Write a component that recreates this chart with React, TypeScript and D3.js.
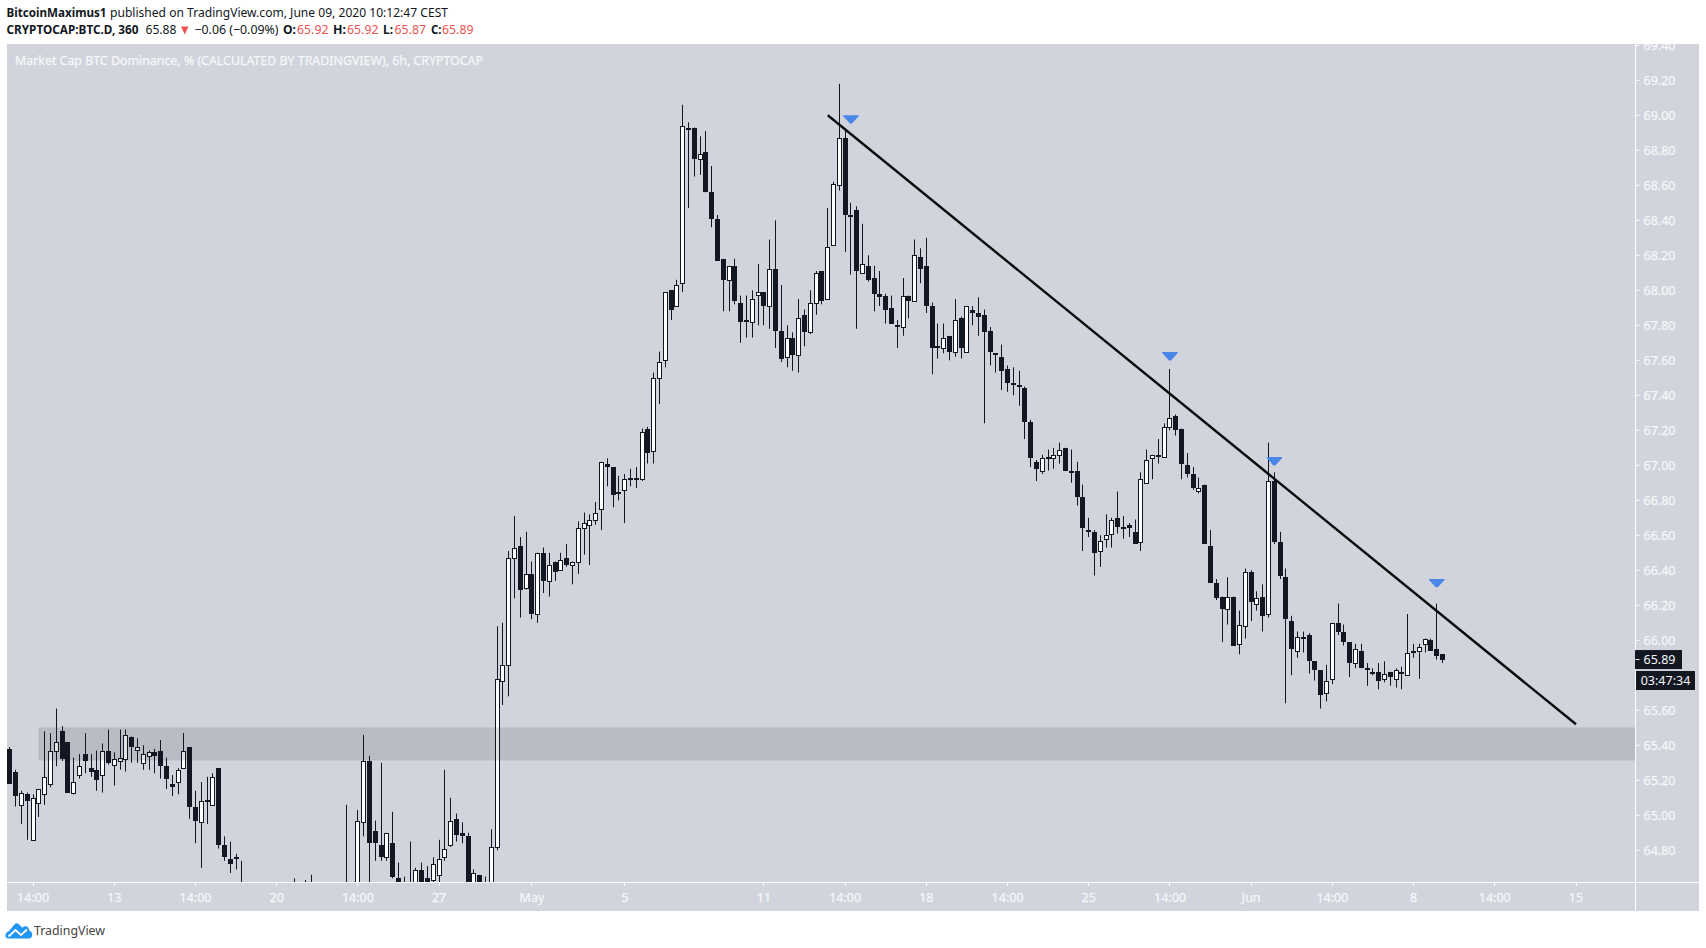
import React from "react";
import * as d3 from "d3";

// OHLC of the 6h candles, oldest first (off-chart bars below 64.62 are estimates)
const opens = [
65.38,65.25,65.06,65.12,64.86,65.07,65.12,65.18,65.37,65.48,
65.42,65.13,65.23,65.35,65.27,65.26,65.23,65.37,65.29,65.32,
65.32,65.45,65.38,65.30,65.34,65.36,65.37,65.28,65.18,65.19,
65.27,65.39,65.05,64.96,65.09,65.06,65.27,64.83,64.75,64.76,
64.60,64.50,64.45,64.40,64.44,64.48,64.42,64.38,64.46,64.50,
64.48,64.44,64.52,64.46,64.42,64.48,64.44,64.50,64.46,64.40,
64.52,64.96,65.31,64.91,64.83,64.76,64.84,64.64,64.62,64.55,
64.55,64.69,64.64,64.63,64.66,64.76,64.83,64.98,64.90,64.88,
64.50,64.66,64.52,64.50,64.82,65.77,65.86,66.47,66.54,66.30,
66.38,66.15,66.50,66.34,66.45,66.40,66.47,66.43,66.45,66.64,
66.66,66.69,66.75,67.01,66.99,66.85,66.86,66.93,66.93,66.92,
67.21,67.08,67.50,67.60,68.00,67.91,68.04,68.93,68.93,68.75,
68.79,68.56,68.41,68.18,68.06,68.14,67.93,67.83,67.82,67.98,
67.99,67.91,68.12,67.77,67.62,67.73,67.63,67.86,67.76,67.93,
68.11,67.95,68.26,68.60,68.87,68.43,68.46,68.10,68.14,68.07,
67.98,67.97,67.90,67.80,67.79,67.97,67.94,68.19,68.14,67.91,
67.68,67.67,67.74,67.65,67.84,67.65,67.89,67.87,67.86,67.77,
67.64,67.62,67.55,67.47,67.46,67.44,67.25,67.02,66.97,67.05,
67.05,67.06,67.10,66.97,66.97,66.82,66.63,66.62,66.51,66.58,
66.61,66.70,66.65,66.66,66.62,66.56,66.90,67.05,67.06,67.05,
67.22,67.28,67.21,67.00,66.95,66.86,66.89,66.54,66.33,66.25,
66.18,66.25,65.98,66.08,66.39,66.21,66.25,66.15,66.91,66.56,
66.36,66.11,65.94,66.02,66.03,65.88,65.83,65.70,65.78,66.10,
66.05,65.99,65.87,65.94,65.84,65.82,65.82,65.78,65.82,65.78,
65.82,65.80,65.94,65.94,65.98,66.00,65.95,65.92];

const highs = [
65.39,65.26,65.14,65.13,65.12,65.15,65.48,65.47,65.61,65.51,
65.42,65.33,65.35,65.47,65.35,65.37,65.41,65.49,65.36,65.49,
65.49,65.45,65.44,65.40,65.37,65.38,65.43,65.33,65.23,65.27,
65.47,65.39,65.14,65.19,65.22,65.24,65.27,64.88,64.85,64.78,
64.74,64.58,64.55,64.52,64.55,64.58,64.52,64.50,64.58,64.64,
64.60,64.63,64.66,64.58,64.56,64.60,64.58,64.60,65.06,64.58,
65.03,65.46,65.34,64.97,65.30,64.90,65.02,64.73,64.65,64.85,
64.70,64.73,64.71,64.76,64.86,65.26,65.10,65.01,64.96,64.90,
64.69,64.66,64.65,64.92,66.08,66.10,66.51,66.71,66.59,66.62,
66.45,66.50,66.53,66.50,66.45,66.50,66.55,66.45,66.68,66.73,
66.72,66.79,67.02,67.04,66.99,66.94,66.95,66.98,66.99,67.21,
67.22,67.53,67.65,67.99,68.00,68.06,69.06,68.96,68.93,68.88,
68.91,68.71,68.43,68.18,68.14,68.18,67.97,67.97,68.00,68.15,
67.99,68.29,68.40,68.03,67.80,67.76,67.95,67.89,68.00,68.11,
68.11,68.47,68.62,69.18,68.92,68.50,68.48,68.38,68.20,68.14,
68.11,67.98,67.97,67.83,68.07,67.97,68.29,68.24,68.30,67.93,
67.81,67.81,67.74,67.95,67.85,67.91,67.91,67.96,67.89,67.79,
67.64,67.69,67.57,67.56,67.54,67.45,67.26,67.03,67.06,67.09,
67.10,67.13,67.10,67.09,67.02,66.89,66.70,66.63,66.60,66.72,
66.70,66.85,66.71,66.67,66.69,66.96,67.09,67.06,67.15,67.24,
67.55,67.29,67.21,67.07,66.99,66.93,66.89,66.63,66.35,66.25,
66.36,66.25,66.17,66.41,66.40,66.28,66.32,67.13,66.96,66.62,
66.41,66.14,66.05,66.05,66.04,65.88,65.83,65.86,66.10,66.21,
66.09,65.99,65.98,65.98,65.87,65.84,65.87,65.88,65.82,65.84,
65.85,66.15,65.98,65.98,66.01,66.01,66.21,65.92];

const lows = [
65.18,65.05,64.95,64.86,64.86,64.99,65.06,65.16,65.28,65.31,
65.13,65.12,65.21,65.24,65.22,65.14,65.13,65.29,65.17,65.26,
65.25,65.30,65.30,65.26,65.26,65.24,65.21,65.15,65.11,65.12,
65.27,64.98,64.84,64.70,64.95,65.06,64.81,64.74,64.67,64.69,
64.42,64.38,64.35,64.30,64.36,64.40,64.34,64.30,64.38,64.42,
64.40,64.38,64.44,64.38,64.34,64.40,64.36,64.42,64.36,64.30,
64.45,64.88,64.60,64.74,64.74,64.74,64.64,64.50,64.50,64.45,
64.48,64.50,64.52,64.58,64.58,64.74,64.82,64.85,64.84,64.40,
64.42,64.45,64.42,64.45,64.80,65.63,65.68,66.24,66.13,66.29,
66.12,66.10,66.27,66.25,66.34,66.40,66.42,66.32,66.38,66.49,
66.43,66.66,66.63,66.88,66.76,66.80,66.67,66.88,66.87,66.91,
67.01,67.01,67.35,67.56,67.83,67.91,67.99,68.47,68.65,68.66,
68.56,68.36,68.17,67.88,67.88,67.92,67.70,67.73,67.73,67.80,
67.80,67.78,67.67,67.59,67.56,67.54,67.53,67.68,67.75,67.86,
67.92,67.95,68.26,68.57,68.22,68.09,67.78,68.10,68.05,67.88,
67.91,67.81,67.81,67.67,67.74,67.84,67.94,68.04,67.87,67.52,
67.61,67.64,67.60,67.62,67.61,67.65,67.80,67.74,67.24,67.57,
67.53,67.43,67.42,67.40,67.34,67.15,66.99,66.91,66.95,66.97,
66.98,67.01,66.97,66.90,66.77,66.51,66.59,66.37,66.42,66.53,
66.53,66.61,66.58,66.59,66.55,66.51,66.90,66.92,67.01,67.05,
67.20,67.17,66.92,66.93,66.86,66.84,66.55,66.33,66.23,65.99,
66.09,65.97,65.92,66.01,66.11,66.17,66.05,66.13,66.55,66.35,
65.64,65.80,65.90,65.93,65.81,65.77,65.61,65.65,65.75,66.03,
65.97,65.79,65.84,65.84,65.74,65.80,65.72,65.76,65.74,65.73,
65.72,65.80,65.90,65.78,65.93,65.94,65.89,65.87];

const closes = [
65.18,65.11,65.13,65.08,65.10,65.15,65.22,65.37,65.42,65.32,
65.13,65.19,65.28,65.31,65.25,65.20,65.37,65.30,65.32,65.33,
65.46,65.39,65.39,65.35,65.36,65.34,65.28,65.21,65.16,65.26,
65.37,65.05,64.97,65.08,65.08,65.22,64.83,64.76,64.72,64.75,
64.50,64.45,64.40,64.44,64.48,64.42,64.38,64.46,64.50,64.48,
64.44,64.52,64.46,64.42,64.48,64.44,64.50,64.46,64.40,64.52,
64.97,65.31,64.84,64.84,64.76,64.90,64.65,64.58,64.55,64.60,
64.69,64.58,64.58,64.72,64.75,64.81,64.97,64.89,64.88,64.48,
64.67,64.52,64.48,64.82,65.78,65.86,66.47,66.53,66.29,66.38,
66.15,66.50,66.34,66.43,66.39,66.46,66.43,66.45,66.64,66.67,
66.69,66.73,67.02,66.99,66.83,66.84,66.92,66.92,66.92,67.19,
67.07,67.50,67.59,67.99,67.89,68.03,68.94,68.92,68.75,68.78,
68.56,68.41,68.17,68.06,68.14,67.94,67.82,67.82,67.95,67.99,
67.91,68.12,67.77,67.61,67.73,67.63,67.84,67.76,67.93,68.10,
67.94,68.25,68.61,68.87,68.43,68.42,68.11,68.15,68.06,67.98,
67.96,67.89,67.81,67.79,67.97,67.94,68.20,68.12,67.91,67.67,
67.67,67.73,67.65,67.83,67.67,67.91,67.87,67.85,67.76,67.65,
67.63,67.54,67.47,67.46,67.45,67.25,67.04,66.98,67.04,67.04,
67.06,67.09,66.97,66.96,66.82,66.64,66.62,66.50,66.57,66.60,
66.69,66.65,66.64,66.64,66.55,66.92,67.03,67.06,67.05,67.22,
67.27,67.20,67.01,66.95,66.87,66.87,66.55,66.33,66.24,66.18,
66.25,65.97,66.09,66.39,66.22,66.24,66.14,66.91,66.56,66.37,
66.12,65.95,66.02,66.01,65.88,65.83,65.69,65.77,66.10,66.05,
65.99,65.87,65.95,65.84,65.83,65.81,65.77,65.81,65.79,65.83,
65.81,65.93,65.93,65.96,66.01,65.94,65.91,65.89];

// Time axis: bar index of each labelled tick
const timeTickBars = [4, 18, 32, 46, 60, 74, 90, 106, 130, 144, 158, 172, 186, 200, 214, 228, 242, 256, 270];
const timeTickLabels = ["14:00", "13", "14:00", "20", "14:00", "27", "May", "5", "11", "14:00", "18", "14:00", "25", "14:00", "Jun", "14:00", "8", "14:00", "15"];
// 65.80 is hidden behind the last-price and countdown labels in the reference
const priceTicks = [64.8, 65, 65.2, 65.4, 65.6, 66, 66.2, 66.4, 66.6, 66.8, 67, 67.2, 67.4, 67.6, 67.8, 68, 68.2, 68.4, 68.6, 68.8, 69, 69.2, 69.4];

// Drawn objects on the chart
const trendBars = [141, 270];
const trendValues = [69.0, 65.52];
const zoneStartBar = 5;
const zoneValues = [65.5, 65.315];
const markerBars = [145, 200, 218, 246];
const markerValues = [69.0, 67.647, 67.047, 66.35];
const lastPrice = 65.89;
const countdown = "03:47:34";

const SANS = "'Noto Sans', sans-serif";
const BG = "#d1d4dc";
const DARK = "#131722";
const RED = "#ef5350";
const AXIS_TEXT = "#f6f7f9";

const panel = { left: 7, top: 44, right: 1699, bottom: 911, axisX: 1635.5, axisY: 882.5 };

function Fit({ x, y, w, bold, fill, halo, children }: { x: number; y: number; w: number; bold?: boolean; fill?: string; halo?: boolean; children: string }) {
  return (
    <text x={x} y={y} textLength={w} lengthAdjust="spacingAndGlyphs" fontFamily={SANS} fontSize={12.5} fontWeight={bold ? 700 : 400} fill={fill ?? DARK} stroke={halo ? fill : "none"} strokeWidth={halo ? 0.25 : 0}>
      {children}
    </text>
  );
}

export default function App() {
  const x = d3.scaleLinear().domain([0, 270]).range([9.9, 1576]);
  const y = d3.scaleLinear().domain([64.8, 69.4]).range([850.3, 45.3]);
  const trend = d3.line<number>().x((b) => x(b)).y((_, i) => y(trendValues[i]));
  const snap = (v: number) => Math.floor(v) + 0.5;

  return (
    <svg width={1706} height={948} viewBox="0 0 1706 948" style={{ position: "absolute", left: 0, top: 0, background: "#fff" }}>
      <defs>
        <clipPath id="plot"><rect x={panel.left} y={panel.top} width={panel.axisX - panel.left} height={panel.axisY - panel.top} /></clipPath>
        <clipPath id="priceAxis"><rect x={panel.axisX} y={panel.top} width={panel.right - panel.axisX} height={panel.axisY - panel.top} /></clipPath>
      </defs>

      {/* header */}
      <Fit x={6.5} y={17} w={100} bold>BitcoinMaximus1</Fit>
      <Fit x={110} y={17} w={338}>published on TradingView.com, June 09, 2020 10:12:47 CEST</Fit>
      <Fit x={6.5} y={34} w={132} bold>CRYPTOCAP:BTC.D, 360</Fit>
      <Fit x={145.5} y={34} w={31}>65.88</Fit>
      <path d="M181 26.5 L188.5 26.5 L184.7 34.5 Z" fill={RED} />
      <Fit x={194.5} y={34} w={84}>−0.06 (−0.09%)</Fit>
      <Fit x={283} y={34} w={13} bold>O:</Fit>
      <Fit x={297} y={34} w={31.5} fill={RED}>65.92</Fit>
      <Fit x={333} y={34} w={13} bold>H:</Fit>
      <Fit x={347} y={34} w={31.5} fill={RED}>65.92</Fit>
      <Fit x={383} y={34} w={10} bold>L:</Fit>
      <Fit x={394.5} y={34} w={31.5} fill={RED}>65.87</Fit>
      <Fit x={431} y={34} w={10.5} bold>C:</Fit>
      <Fit x={442} y={34} w={31.5} fill={RED}>65.89</Fit>

      {/* panel */}
      <rect x={panel.left} y={panel.top} width={panel.right - panel.left} height={panel.bottom - panel.top} fill={BG} />
      <Fit x={15} y={65} w={468} fill={AXIS_TEXT} halo>Market Cap BTC Dominance, % (CALCULATED BY TRADINGVIEW), 6h, CRYPTOCAP</Fit>

      <g clipPath="url(#plot)">
        {opens.map((o, i) => {
          const c = closes[i];
          const up = c >= o;
          const cx = snap(x(i));
          const top = Math.round(y(Math.max(o, c)));
          const bot = Math.round(y(Math.min(o, c)));
          return (
            <g key={i}>
              <line x1={cx} x2={cx} y1={y(highs[i])} y2={y(lows[i])} stroke={DARK} strokeWidth={1} />
              {up ? (
                <rect x={cx - 2} y={top + 0.5} width={4} height={Math.max(bot - top, 3)} fill="#fff" stroke={DARK} strokeWidth={1} />
              ) : (
                <rect x={cx - 2.5} y={top} width={5} height={Math.max(bot - top, 2)} fill={DARK} />
              )}
            </g>
          );
        })}
        <rect x={x(zoneStartBar)} y={y(zoneValues[0])} width={panel.axisX - x(zoneStartBar)} height={y(zoneValues[1]) - y(zoneValues[0])} fill={DARK} fillOpacity={0.125} stroke={DARK} strokeOpacity={0.05} strokeWidth={1} />
        <path d={trend(trendBars) ?? ""} fill="none" stroke="#0b0b0b" strokeWidth={2.4} />
        {markerBars.map((b, i) => {
          const mx = x(b);
          const my = y(markerValues[i]);
          return <path key={b} d={`M${mx - 7.7} ${my} L${mx + 7.7} ${my} L${mx + 7.7} ${my + 1} L${mx + 1} ${my + 8.3} L${mx - 1} ${my + 8.3} L${mx - 7.7} ${my + 1} Z`} fill="#4a86e8" />;
        })}
      </g>

      {/* axes */}
      <line x1={panel.left} x2={panel.right} y1={panel.axisY} y2={panel.axisY} stroke="#fff" />
      <line x1={panel.axisX} x2={panel.axisX} y1={panel.top} y2={panel.bottom} stroke="#fff" />

      <g clipPath="url(#priceAxis)" fontFamily={SANS} fontSize={12.5} fill={AXIS_TEXT} stroke={AXIS_TEXT} strokeWidth={0.25}>
        {priceTicks.map((t) => (
          <g key={t}>
            <line x1={panel.axisX} x2={panel.axisX + 4} y1={y(t)} y2={y(t)} stroke="#fff" strokeWidth={1} />
            <text x={1643.5} y={y(t) + 4.5}>{t.toFixed(2)}</text>
          </g>
        ))}
      </g>
      <g fontFamily={SANS} fontSize={12.5} fill={AXIS_TEXT} stroke={AXIS_TEXT} strokeWidth={0.25} textAnchor="middle">
        {timeTickBars.map((b, i) => (
          <g key={b}>
            <line x1={snap(x(b))} x2={snap(x(b))} y1={panel.axisY} y2={panel.axisY + 3.5} stroke="#fff" strokeWidth={1} />
            <text x={x(b)} y={902}>{timeTickLabels[i]}</text>
          </g>
        ))}
      </g>

      {/* last price and countdown */}
      <rect x={panel.axisX - 0.5} y={y(lastPrice) - 9.5} width={47} height={19} fill={DARK} />
      <line x1={panel.axisX} x2={panel.axisX + 4} y1={y(lastPrice)} y2={y(lastPrice)} stroke="#fff" />
      <text x={1643.5} y={y(lastPrice) + 4.5} fontFamily={SANS} fontSize={12.5} fill={AXIS_TEXT}>{lastPrice.toFixed(2)}</text>
      <rect x={1636} y={671} width={59} height={19} fill={DARK} />
      <text x={1665.5} y={685} textAnchor="middle" fontFamily={SANS} fontSize={12.5} fill={AXIS_TEXT}>{countdown}</text>

      {/* logo */}
      <path d="M8 938.5 C4.5 938.5 4.5 932.5 8.5 931.5 L14.5 924.5 C15.5 923 17.5 923 18.8 924.2 L22.5 927.8 C25 925 29 926.5 29.3 930.5 C33.5 931.5 33 938.5 29 938.5 Z" fill="#2196f3" />
      <path d="M8.5 936.5 L15.5 930 L21 935 L27 929.5" fill="none" stroke="#fff" strokeWidth={1.8} />
      <Fit x={34} y={934.5} w={71} fill="#444">TradingView</Fit>
    </svg>
  );
}
